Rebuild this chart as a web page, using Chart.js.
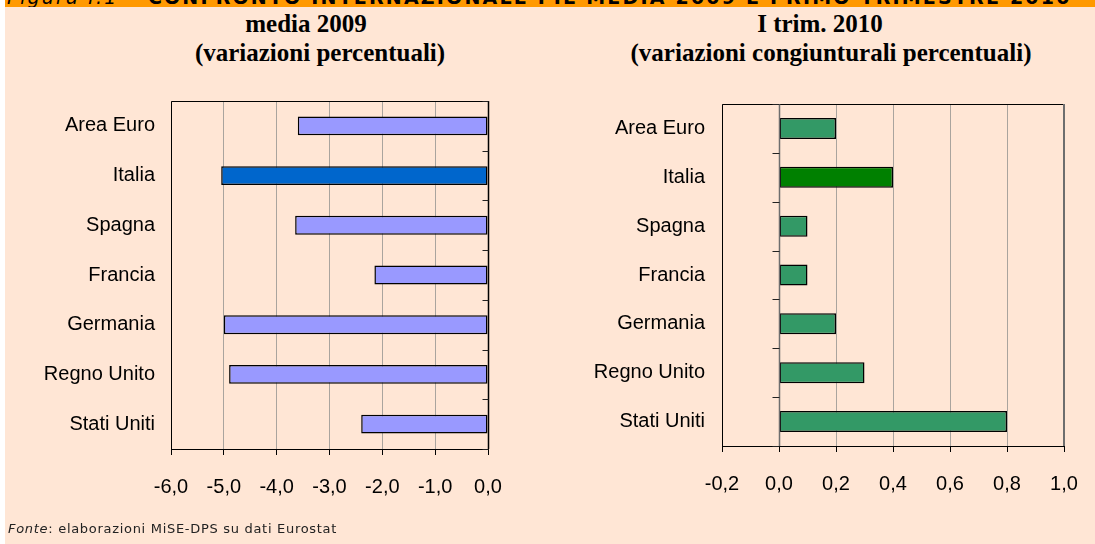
<!DOCTYPE html>
<html>
<head>
<meta charset="utf-8">
<script src="https://cdn.jsdelivr.net/npm/chart.js@4.4.0/dist/chart.umd.min.js"></script>
<style>
  body { margin: 0; background: #fff; width: 1095px; height: 544px; overflow: hidden; position: relative; }
  #panel { position: absolute; left: 5px; top: 0; width: 1090px; height: 544px; background: #FFE6D5; }
  #header { position: absolute; left: 5px; top: 0; width: 1090px; height: 7px; background: #FF9900; overflow: hidden; }
  #header span { position: absolute; left: 2px; top: -14px; font: bold 19px "DejaVu Sans"; letter-spacing: 2.2px; white-space: nowrap; color: #000; }
  #header i { font-weight: normal; }
  .title { position: absolute; font: bold 25px "Liberation Serif"; line-height: 25px; color: #000; white-space: nowrap; transform: translateX(-50%); }
  canvas { position: absolute; top: 0; }
  #note { position: absolute; left: 8px; top: 522px; font: 13px "DejaVu Sans"; letter-spacing: 0.7px; line-height: 13px; color: #222; white-space: nowrap; }
</style>
</head>
<body>
<div id="panel"></div>
<div id="header"><span><i>Figura I.1</i> &ndash; CONFRONTO INTERNAZIONALE PIL MEDIA 2009 E PRIMO TRIMESTRE 2010</span></div>

<div class="title" style="left:306px; top:11px;">media 2009</div>
<div class="title" style="left:320px; top:40px;">(variazioni percentuali)</div>
<div class="title" style="left:820px; top:11px;">I trim. 2010</div>
<div class="title" style="left:831px; top:40px;">(variazioni congiunturali percentuali)</div>

<canvas id="chart2009" width="545" height="544" style="left:0px;"></canvas>
<canvas id="chart2010" width="550" height="544" style="left:545px;"></canvas>

<div id="note"><i>Fonte</i>: elaborazioni MiSE-DPS su dati Eurostat</div>

<script>
// Data
const categories = ['Area Euro', 'Italia', 'Spagna', 'Francia', 'Germania', 'Regno Unito', 'Stati Uniti'];
const media2009 = [-3.6, -5.05, -3.65, -2.15, -5.0, -4.9, -2.4];
const trim2010 = [0.2, 0.4, 0.1, 0.1, 0.2, 0.3, 0.8];
const ticks2009 = [-6, -5, -4, -3, -2, -1, 0];
const ticks2010 = [-0.2, 0, 0.2, 0.4, 0.6, 0.8, 1.0];
const highlight = 'Italia';

// number format with comma decimals
function fmt(v) {
    return (Math.round(v * 10) / 10 + 0).toFixed(1).replace('.', ',');
}

// Frame, zero line and category tick marks
const framePlugin = {
    id: 'frame',
    afterDatasetsDraw(chart, args, opts) {
        const { ctx, chartArea: a, scales: { x, y } } = chart;
        const x0 = Math.round(x.getPixelForValue(0)) + 0.5;
        ctx.save();
        ctx.lineWidth = 1;
        ctx.strokeStyle = '#000';
        ctx.beginPath();
        ctx.moveTo(a.left + 0.5, a.bottom);
        ctx.lineTo(a.left + 0.5, a.top + 0.5);
        ctx.lineTo(a.right, a.top + 0.5);
        ctx.stroke();

        if (opts.rightColor) {
            ctx.lineWidth = 2;
            ctx.strokeStyle = opts.rightColor;
            ctx.beginPath();
            ctx.moveTo(a.right, a.top);
            ctx.lineTo(a.right, a.bottom);
            ctx.stroke();
        }

        ctx.lineWidth = opts.zeroWidth;
        ctx.strokeStyle = opts.zeroColor;
        ctx.beginPath();
        ctx.moveTo(x0, a.top);
        ctx.lineTo(x0, a.bottom);
        ctx.stroke();

        ctx.lineWidth = 1;
        ctx.strokeStyle = '#222';
        ctx.beginPath();
        for (let i = 0; i <= categories.length; i++) {
            const yy = Math.round(y.getPixelForValue(i - 0.5)) + 0.5;
            ctx.moveTo(x0 - opts.tickLen, yy);
            ctx.lineTo(x0, yy);
        }
        ctx.stroke();
        ctx.restore();
    }
};

function makeChart(id, values, xTicks, colors, cfg) {
    return new Chart(document.getElementById(id), {
        type: 'bar',
        data: {
            labels: categories,
            datasets: [{
                data: values,
                backgroundColor: categories.map(c => c === highlight ? colors[1] : colors[0]),
                borderColor: '#000',
                borderWidth: 1.5,
                borderSkipped: false,
                categoryPercentage: 1,
                barPercentage: cfg.barPct
            }]
        },
        options: {
            indexAxis: 'y',
            responsive: false,
            animation: false,
            layout: { padding: { left: 0, right: cfg.padRight, top: cfg.padTop, bottom: cfg.padBottom } },
            plugins: {
                legend: { display: false },
                tooltip: { enabled: false },
                frame: cfg.frame
            },
            scales: {
                x: {
                    type: 'linear',
                    min: xTicks[0],
                    max: xTicks[xTicks.length - 1],
                    afterBuildTicks: s => { s.ticks = xTicks.map(v => ({ value: v })); },
                    afterFit: s => {
                        s.height = 60;
                        s.paddingLeft = 0;
                        s.paddingRight = 0;
                    },
                    grid: { color: '#aaa49e', tickColor: '#000', tickLength: 6, lineWidth: 1 },
                    border: { color: '#000', width: 1 },
                    ticks: {
                        font: { family: 'Liberation Sans', size: 20 },
                        color: '#000',
                        padding: 20,
                        maxRotation: 0,
                        autoSkip: false,
                        callback: v => fmt(v)
                    }
                },
                y: {
                    afterFit: s => { s.width = cfg.axisWidth; },
                    grid: { display: false, drawTicks: false },
                    border: { display: false },
                    ticks: {
                        font: { family: 'Liberation Sans', size: 20 },
                        color: '#000',
                        padding: cfg.labelPad
                    }
                }
            }
        },
        plugins: [framePlugin]
    });
}

makeChart('chart2009', media2009, ticks2009, ['#9999FF', '#0066CC'], {
    barPct: 0.38,
    padRight: 57,
    padTop: 101,
    padBottom: 35,
    axisWidth: 171,
    labelPad: 16,
    frame: { zeroColor: '#000', zeroWidth: 1.5, tickLen: 6 }
});

makeChart('chart2010', trim2010, ticks2010, ['#339966', '#008000'], {
    barPct: 0.43,
    padRight: 31,
    padTop: 104,
    padBottom: 38,
    axisWidth: 177,
    labelPad: 17,
    frame: { zeroColor: '#6e6e6e', zeroWidth: 1.5, tickLen: 7, rightColor: '#6e6e6e' }
});
</script>
</body>
</html>
